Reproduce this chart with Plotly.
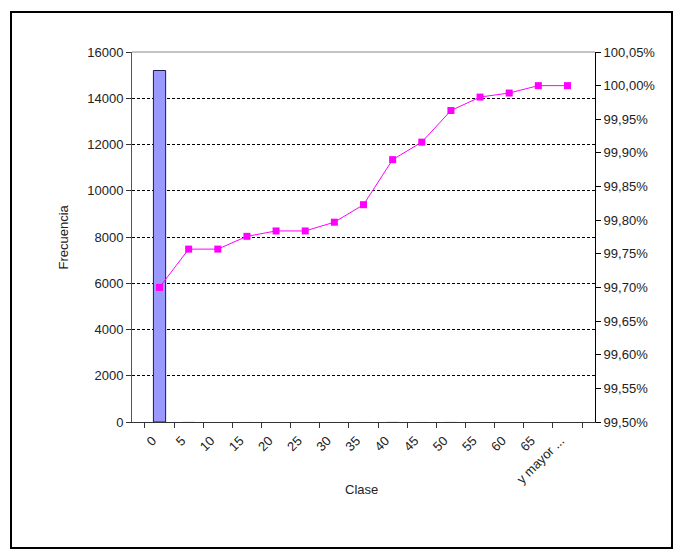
import plotly.graph_objects as go

clases = ["0", "5", "10", "15", "20", "25", "30", "35", "40", "45", "50", "55", "60", "65", "y mayor ..."]
frecuencia = [15200, 9, 0, 3, 1, 0, 2, 4, 10, 4, 7, 3, 1, 2, 0]
porc_acumulado = [99.700, 99.757, 99.757, 99.776, 99.784, 99.784, 99.797, 99.823,
                  99.890, 99.916, 99.963, 99.983, 99.989, 100.000, 100.000]
freq_ticks = [0, 2000, 4000, 6000, 8000, 10000, 12000, 14000, 16000]
pct_ticks = [99.50, 99.55, 99.60, 99.65, 99.70, 99.75, 99.80, 99.85, 99.90, 99.95, 100.00, 100.05]
pct_labels = [f"{v:.2f}%".replace(".", ",") for v in pct_ticks]

FONT = "Liberation Sans, Arial, sans-serif"
FS = 13
W, H = 688, 558
L, R, T, B = 132, 595, 52, 422
PW, PH = R - L, B - T

def px(x):
    return (x - L) / PW

def py(y):
    return (B - y) / PH

n = len(clases)

fig = go.Figure()
fig.add_trace(go.Bar(
    x=clases, y=frecuencia, width=0.42,
    marker=dict(color="#9999FF",
                line=dict(color="#1a1a4d", width=[1 if v > 200 else 0 for v in frecuencia])),
    yaxis="y", showlegend=False,
))
fig.add_trace(go.Scatter(
    x=clases, y=porc_acumulado, mode="lines+markers",
    line=dict(color="#FF00FF", width=1),
    marker=dict(symbol="square", size=7, color="#FF00FF"),
    yaxis="y2", showlegend=False,
))

fig.update_layout(
    width=W, height=H,
    margin=dict(l=L, r=W - R, t=T, b=H - B, autoexpand=False),
    paper_bgcolor="white", plot_bgcolor="white",
    font=dict(family=FONT, size=FS, color="#222222"),
    bargap=0,
    xaxis=dict(
        type="category", tickson="boundaries", ticks="outside", ticklen=5,
        tickcolor="#333333", tickangle=-45, showline=True, linecolor="#333333",
        linewidth=1, showgrid=False, zeroline=False, automargin=False,
        tickfont=dict(size=FS), ticklabelshift=-7, ticklabelstandoff=5,
    ),
    xaxis2=dict(
        overlaying="x", anchor="y", side="bottom", range=[-0.5, n - 0.5],
        tickvals=[i - 0.5 for i in range(n + 1)], ticks="inside", ticklen=3,
        tickcolor="#333333", showticklabels=False, showgrid=False,
        zeroline=False, showline=False, automargin=False,
    ),
    yaxis=dict(
        range=[0, 16000], tickvals=freq_ticks, ticks="outside", ticklen=5,
        tickcolor="#333333", showline=True, linecolor="#555555", linewidth=1,
        showgrid=True, gridcolor="#000000", gridwidth=1, griddash="3px,2px",
        zeroline=False, tickformat="d", automargin=False,
    ),
    yaxis3=dict(
        overlaying="y", anchor="x", side="left", range=[0, 16000],
        tickvals=freq_ticks, ticks="inside", ticklen=3, tickcolor="#333333",
        showticklabels=False, showgrid=False, zeroline=False, showline=False,
        automargin=False,
    ),
    yaxis2=dict(
        range=[99.50, 100.05], tickvals=pct_ticks, ticktext=pct_labels,
        overlaying="y", side="right", ticks="outside", ticklen=5,
        tickcolor="#000000", showline=True, linecolor="#000000", linewidth=1,
        showgrid=False, zeroline=False, automargin=False,
    ),
    yaxis4=dict(
        overlaying="y", anchor="x", side="right", range=[99.50, 100.05],
        tickvals=pct_ticks, ticks="inside", ticklen=3, tickcolor="#000000",
        showticklabels=False, showgrid=False, zeroline=False, showline=False,
        automargin=False,
    ),
    annotations=[
        dict(text="Frecuencia", xref="paper", yref="paper", x=px(53), y=py(237),
             showarrow=False, textangle=-90, font=dict(size=FS)),
        dict(text="Clase", xref="paper", yref="paper", x=px(361), y=py(499),
             showarrow=False, font=dict(size=FS)),
    ],
    shapes=[
        dict(type="line", xref="paper", yref="paper", x0=0, x1=1, y0=1, y1=1,
             line=dict(color="#888888", width=1)),
        dict(type="rect", xref="paper", yref="paper",
             x0=px(11), x1=px(672), y0=py(548), y1=py(12),
             line=dict(color="#000000", width=2), layer="below"),
    ],
)

fig.write_html(
    "out.html",
    config={"displayModeBar": False, "staticPlot": True},
    post_script="document.body.style.margin='0';document.body.style.overflow='hidden';",
)
